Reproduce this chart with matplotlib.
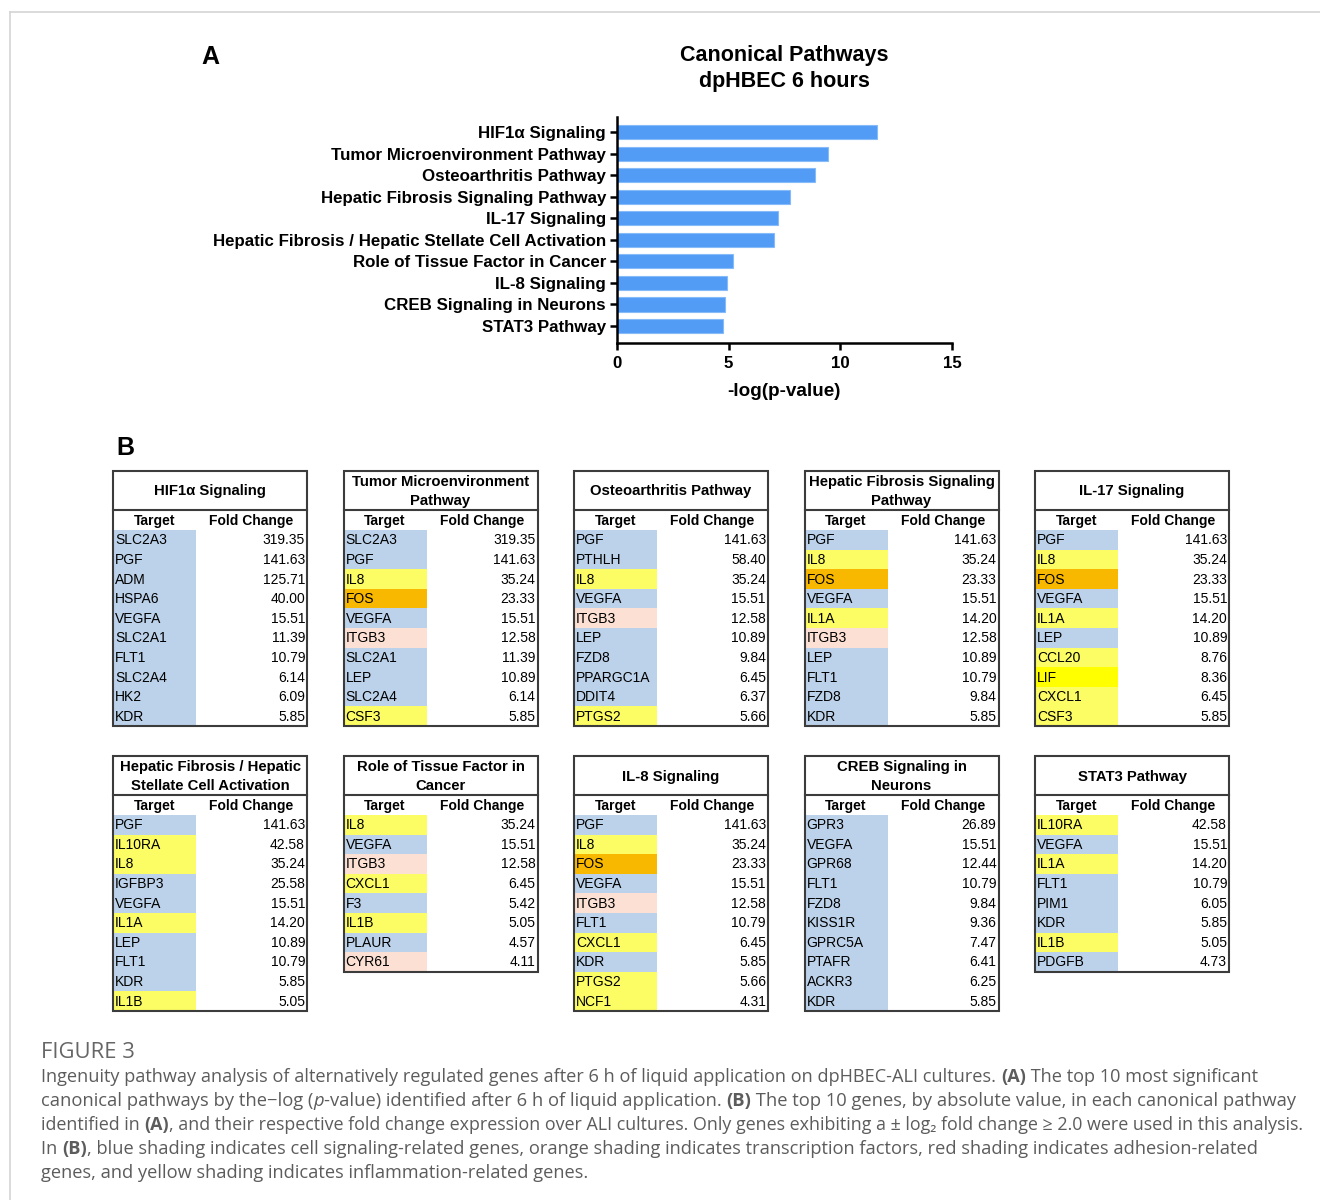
#!/usr/bin/env python3
"""Canonical pathway bar chart + top-gene tables (Figure 3 recreation)."""

import numpy as np
import matplotlib
matplotlib.use('Agg')
import matplotlib.pyplot as plt
from matplotlib.patches import Rectangle

plt.rcParams['font.family'] = ['Liberation Sans', 'DejaVu Sans']

# ---- Panel A data ----
pathways = ['HIF1\u03b1 Signaling', 'Tumor Microenvironment Pathway', 'Osteoarthritis Pathway',
            'Hepatic Fibrosis Signaling Pathway', 'IL-17 Signaling',
            'Hepatic Fibrosis / Hepatic Stellate Cell Activation', 'Role of Tissue Factor in Cancer',
            'IL-8 Signaling', 'CREB Signaling in Neurons', 'STAT3 Pathway']
neg_log_p = [11.62, 9.43, 8.85, 7.76, 7.19, 7.01, 5.21, 4.92, 4.85, 4.73]

# ---- Panel B data (b=signaling, o=transcription, r=adhesion, y=inflammation, Y=bright) ----
table_titles = ['HIF1\u03b1 Signaling', 'Tumor Microenvironment\nPathway', 'Osteoarthritis Pathway',
                'Hepatic Fibrosis Signaling\nPathway', 'IL-17 Signaling',
                'Hepatic Fibrosis / Hepatic\nStellate Cell Activation', 'Role of Tissue Factor in\nCancer',
                'IL-8 Signaling', 'CREB Signaling in\nNeurons', 'STAT3 Pathway']

hif1a_genes = ['SLC2A3', 'PGF', 'ADM', 'HSPA6', 'VEGFA', 'SLC2A1', 'FLT1', 'SLC2A4', 'HK2', 'KDR']
hif1a_fold = [319.35, 141.63, 125.71, 40.00, 15.51, 11.39, 10.79, 6.14, 6.09, 5.85]
hif1a_shade = ['b', 'b', 'b', 'b', 'b', 'b', 'b', 'b', 'b', 'b']

tumor_genes = ['SLC2A3', 'PGF', 'IL8', 'FOS', 'VEGFA', 'ITGB3', 'SLC2A1', 'LEP', 'SLC2A4', 'CSF3']
tumor_fold = [319.35, 141.63, 35.24, 23.33, 15.51, 12.58, 11.39, 10.89, 6.14, 5.85]
tumor_shade = ['b', 'b', 'y', 'o', 'b', 'r', 'b', 'b', 'b', 'y']

osteo_genes = ['PGF', 'PTHLH', 'IL8', 'VEGFA', 'ITGB3', 'LEP', 'FZD8', 'PPARGC1A', 'DDIT4', 'PTGS2']
osteo_fold = [141.63, 58.40, 35.24, 15.51, 12.58, 10.89, 9.84, 6.45, 6.37, 5.66]
osteo_shade = ['b', 'b', 'y', 'b', 'r', 'b', 'b', 'b', 'b', 'y']

hepfib_genes = ['PGF', 'IL8', 'FOS', 'VEGFA', 'IL1A', 'ITGB3', 'LEP', 'FLT1', 'FZD8', 'KDR']
hepfib_fold = [141.63, 35.24, 23.33, 15.51, 14.20, 12.58, 10.89, 10.79, 9.84, 5.85]
hepfib_shade = ['b', 'y', 'o', 'b', 'y', 'r', 'b', 'b', 'b', 'b']

il17_genes = ['PGF', 'IL8', 'FOS', 'VEGFA', 'IL1A', 'LEP', 'CCL20', 'LIF', 'CXCL1', 'CSF3']
il17_fold = [141.63, 35.24, 23.33, 15.51, 14.20, 10.89, 8.76, 8.36, 6.45, 5.85]
il17_shade = ['b', 'y', 'o', 'b', 'y', 'b', 'y', 'Y', 'y', 'y']

stellate_genes = ['PGF', 'IL10RA', 'IL8', 'IGFBP3', 'VEGFA', 'IL1A', 'LEP', 'FLT1', 'KDR', 'IL1B']
stellate_fold = [141.63, 42.58, 35.24, 25.58, 15.51, 14.20, 10.89, 10.79, 5.85, 5.05]
stellate_shade = ['b', 'y', 'y', 'b', 'b', 'y', 'b', 'b', 'b', 'y']

tissue_genes = ['IL8', 'VEGFA', 'ITGB3', 'CXCL1', 'F3', 'IL1B', 'PLAUR', 'CYR61']
tissue_fold = [35.24, 15.51, 12.58, 6.45, 5.42, 5.05, 4.57, 4.11]
tissue_shade = ['y', 'b', 'r', 'y', 'b', 'y', 'b', 'r']

il8_genes = ['PGF', 'IL8', 'FOS', 'VEGFA', 'ITGB3', 'FLT1', 'CXCL1', 'KDR', 'PTGS2', 'NCF1']
il8_fold = [141.63, 35.24, 23.33, 15.51, 12.58, 10.79, 6.45, 5.85, 5.66, 4.31]
il8_shade = ['b', 'y', 'o', 'b', 'r', 'b', 'y', 'b', 'y', 'y']

creb_genes = ['GPR3', 'VEGFA', 'GPR68', 'FLT1', 'FZD8', 'KISS1R', 'GPRC5A', 'PTAFR', 'ACKR3', 'KDR']
creb_fold = [26.89, 15.51, 12.44, 10.79, 9.84, 9.36, 7.47, 6.41, 6.25, 5.85]
creb_shade = ['b'] * 10

stat3_genes = ['IL10RA', 'VEGFA', 'IL1A', 'FLT1', 'PIM1', 'KDR', 'IL1B', 'PDGFB']
stat3_fold = [42.58, 15.51, 14.20, 10.79, 6.05, 5.85, 5.05, 4.73]
stat3_shade = ['y', 'b', 'y', 'b', 'b', 'b', 'y', 'b']

tables = [
    (hif1a_genes, hif1a_fold, hif1a_shade),
    (tumor_genes, tumor_fold, tumor_shade),
    (osteo_genes, osteo_fold, osteo_shade),
    (hepfib_genes, hepfib_fold, hepfib_shade),
    (il17_genes, il17_fold, il17_shade),
    (stellate_genes, stellate_fold, stellate_shade),
    (tissue_genes, tissue_fold, tissue_shade),
    (il8_genes, il8_fold, il8_shade),
    (creb_genes, creb_fold, creb_shade),
    (stat3_genes, stat3_fold, stat3_shade),
]

shade_colors = {'b': '#BCD2EA', 'y': '#FCFC64', 'o': '#F8B800', 'r': '#FBE0D3', 'Y': '#FFFF00'}

W, H = 1320, 1200
fig = plt.figure(figsize=(W / 100, H / 100), dpi=100)

# ---- Panel A: bar chart ----
ax = fig.add_axes([617 / W, 1 - 343 / H, (952 - 617) / W, (343 - 117) / H])
ypos = np.arange(len(pathways))
ax.barh(ypos, neg_log_p, height=0.66, color='#529CF6', edgecolor='#86BBF8', linewidth=0.8)
ax.set_ylim(len(pathways) - 0.21, -0.70)
ax.set_xlim(0, 15)
ax.set_xticks([0, 5, 10, 15])
ax.set_yticks(ypos)
ax.set_yticklabels(pathways, fontweight='bold', fontsize=12.2)
for lbl in ax.get_xticklabels():
    lbl.set_fontweight('bold')
    lbl.set_fontsize(12.2)
ax.spines['top'].set_visible(False)
ax.spines['right'].set_visible(False)
ax.spines['left'].set_linewidth(1.8)
ax.spines['bottom'].set_linewidth(1.8)
ax.tick_params(axis='both', direction='out', length=5, width=1.8)
ax.tick_params(axis='y', pad=3)
ax.tick_params(axis='x', pad=4)
ax.set_xlabel('-log(p-value)', fontweight='bold', fontsize=13.6, labelpad=9)

fig.text(784.5 / W, 1 - 68.5 / H, 'Canonical Pathways\ndpHBEC 6 hours', ha='center', va='center',
         fontweight='bold', fontsize=15.5, linespacing=1.28)

# ---- overlay in pixel coordinates ----
ov = fig.add_axes([0, 0, 1, 1])
ov.set_xlim(0, W)
ov.set_ylim(H, 0)
ov.axis('off')

ov.text(210, 57, 'A', ha='center', va='center', fontweight='bold', fontsize=18)
ov.text(125, 448, 'B', ha='center', va='center', fontweight='bold', fontsize=18)

# page frame
ov.plot([10, W], [12, 12], color='#d4d4d4', lw=1.2)
ov.plot([10, 10], [12, H], color='#d4d4d4', lw=1.2)

# ---- Panel B: tables ----
tw, shade_w = 194, 83
title_h, head_h, row_h = 39, 20, 19.6
for i, (genes, fold, shade) in enumerate(tables):
    left = 113 + (i % 5) * 230.5
    top = 471 if i < 5 else 756
    body_top = top + title_h + head_h
    for j, (g, v, s) in enumerate(zip(genes, fold, shade)):
        y0 = body_top + j * row_h
        ov.add_patch(Rectangle((left, y0), shade_w, row_h, facecolor=shade_colors[s],
                               edgecolor='none'))
        ov.text(left + 2, y0 + row_h / 2 + 0.5, g, ha='left', va='center', fontsize=10)
        ov.text(left + tw - 2, y0 + row_h / 2 + 0.5, f'{v:.2f}', ha='right', va='center',
                fontsize=10)
    total_h = title_h + head_h + row_h * len(genes)
    ov.add_patch(Rectangle((left, top), tw, total_h, facecolor='none', edgecolor='#3c3c3c',
                           lw=1.5))
    ov.plot([left, left + tw], [top + title_h, top + title_h], color='#3c3c3c', lw=1.5)
    ov.text(left + tw / 2, top + title_h / 2 + 1, table_titles[i], ha='center', va='center',
            fontweight='bold', fontsize=10.7, linespacing=1.4)
    ov.text(left + shade_w / 2, top + title_h + head_h / 2 + 1, 'Target', ha='center',
            va='center', fontweight='bold', fontsize=10)
    ov.text(left + shade_w + (tw - shade_w) / 2, top + title_h + head_h / 2 + 1, 'Fold Change',
            ha='center', va='center', fontweight='bold', fontsize=10)

# ---- caption ----
cap_font = ['Open Sans', 'DejaVu Sans']
cap_color = '#5c5c5c'
cap_size = 13.0
caption_lines = [
    [('Ingenuity pathway analysis of alternatively regulated genes after 6 h of liquid application on dpHBEC-ALI cultures. ', 'normal', 'normal'),
     ('(A)', 'bold', 'normal'),
     (' The top 10 most significant', 'normal', 'normal')],
    [('canonical pathways by the\u2212log (', 'normal', 'normal'),
     ('p', 'normal', 'italic'),
     ('-value) identified after 6 h of liquid application. ', 'normal', 'normal'),
     ('(B)', 'bold', 'normal'),
     (' The top 10 genes, by absolute value, in each canonical pathway', 'normal', 'normal')],
    [('identified in ', 'normal', 'normal'),
     ('(A)', 'bold', 'normal'),
     (', and their respective fold change expression over ALI cultures. Only genes exhibiting a \u00b1 log\u2082 fold change \u2265 2.0 were used in this analysis.', 'normal', 'normal')],
    [('In ', 'normal', 'normal'),
     ('(B)', 'bold', 'normal'),
     (', blue shading indicates cell signaling-related genes, orange shading indicates transcription factors, red shading indicates adhesion-related', 'normal', 'normal')],
    [('genes, and yellow shading indicates inflammation-related genes.', 'normal', 'normal')],
]
caption_line_ends = [1251, 1293, 1295, 1252, 588]

renderer = fig.canvas.get_renderer()


def seg_width(txt, weight, style, size):
    t1 = ov.text(0, 0, txt + '|', family=cap_font, fontsize=size, fontweight=weight,
                 fontstyle=style)
    t2 = ov.text(0, 0, '|', family=cap_font, fontsize=size, fontweight=weight,
                 fontstyle=style)
    w = t1.get_window_extent(renderer).width - t2.get_window_extent(renderer).width
    t1.remove()
    t2.remove()
    return w


ov.text(41, 1052, 'FIGURE 3', family=cap_font, fontsize=15.8, color='#666666', va='center',
        ha='left')
for k, line in enumerate(caption_lines):
    natural = sum(seg_width(txt, wt, st, cap_size) for txt, wt, st in line)
    size = min(cap_size * (caption_line_ends[k] - 41) / natural, 13.6)
    x = 41
    y = 1077 + k * 24
    for txt, weight, style in line:
        ov.text(x, y, txt, family=cap_font, fontsize=size, fontweight=weight,
                fontstyle=style, color=cap_color, va='center', ha='left')
        x += seg_width(txt, weight, style, size)

fig.savefig('out.png', dpi=100)
